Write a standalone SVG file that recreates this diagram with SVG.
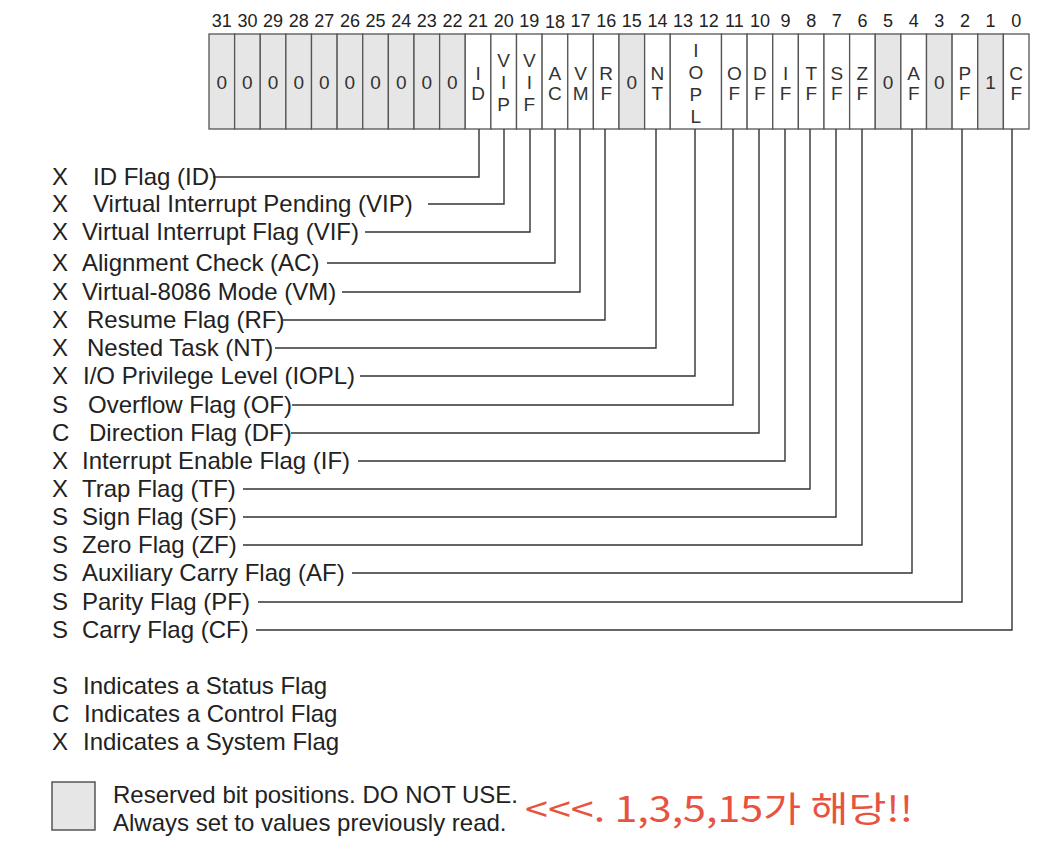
<svg xmlns="http://www.w3.org/2000/svg" width="1060" height="852" viewBox="0 0 1060 852">
<style>
.num{font-family:"Liberation Sans",Arial,sans-serif;font-size:18px;fill:#222;text-anchor:middle}
.ct{font-family:"Liberation Sans",Arial,sans-serif;font-size:19px;fill:#333;text-anchor:middle}
.vt{font-family:"Liberation Sans",Arial,sans-serif;font-size:19px;fill:#333;text-anchor:middle;writing-mode:vertical-rl;text-orientation:upright;letter-spacing:-1px}
.cell{fill:#fff;stroke:#555;stroke-width:1.3}
.res{fill:#e6e6e6;stroke:#555;stroke-width:1.3}
.lbl{font-family:"Liberation Sans",Arial,sans-serif;font-size:24px;fill:#222}
.conn path{fill:none;stroke:#333;stroke-width:1.4}
.red{font-family:"Noto Sans CJK KR","Liberation Sans",sans-serif;font-size:35px;fill:#e8533f}
</style>
<rect width="1060" height="852" fill="#fff"/>
<g id="bit-numbers">
<text class="num" x="221.8" y="27">31</text><text class="num" x="247.4" y="27">30</text><text class="num" x="273.1" y="27">29</text><text class="num" x="298.7" y="27">28</text><text class="num" x="324.3" y="27">27</text><text class="num" x="349.9" y="27">26</text><text class="num" x="375.6" y="27">25</text><text class="num" x="401.2" y="27">24</text><text class="num" x="426.8" y="27">23</text><text class="num" x="452.4" y="27">22</text><text class="num" x="478.1" y="27">21</text><text class="num" x="503.7" y="27">20</text><text class="num" x="529.3" y="27">19</text><text class="num" x="554.9" y="28">18</text><text class="num" x="580.6" y="27">17</text><text class="num" x="606.2" y="27">16</text><text class="num" x="631.8" y="27">15</text><text class="num" x="657.4" y="27">14</text><text class="num" x="683.1" y="27">13</text><text class="num" x="708.7" y="27">12</text><text class="num" x="734.3" y="27">11</text><text class="num" x="759.9" y="27">10</text><text class="num" x="785.6" y="27">9</text><text class="num" x="811.2" y="27">8</text><text class="num" x="836.8" y="27">7</text><text class="num" x="862.4" y="27">6</text><text class="num" x="888.1" y="27">5</text><text class="num" x="913.7" y="27">4</text><text class="num" x="939.3" y="27">3</text><text class="num" x="964.9" y="27">2</text><text class="num" x="990.6" y="27">1</text><text class="num" x="1016.2" y="27">0</text>
</g>
<g id="reserved-31-22">
<rect class="res" x="209" y="34" width="25.625" height="95"/><rect class="res" x="234.625" y="34" width="25.625" height="95"/><rect class="res" x="260.25" y="34" width="25.625" height="95"/><rect class="res" x="285.875" y="34" width="25.625" height="95"/><rect class="res" x="311.5" y="34" width="25.625" height="95"/><rect class="res" x="337.125" y="34" width="25.625" height="95"/><rect class="res" x="362.75" y="34" width="25.625" height="95"/><rect class="res" x="388.375" y="34" width="25.625" height="95"/><rect class="res" x="414" y="34" width="25.625" height="95"/><rect class="res" x="439.625" y="34" width="25.625" height="95"/>
<text class="ct" x="221.8" y="89">0</text><text class="ct" x="247.4" y="89">0</text><text class="ct" x="273.1" y="89">0</text><text class="ct" x="298.7" y="89">0</text><text class="ct" x="324.3" y="89">0</text><text class="ct" x="349.9" y="89">0</text><text class="ct" x="375.6" y="89">0</text><text class="ct" x="401.2" y="89">0</text><text class="ct" x="426.8" y="89">0</text><text class="ct" x="452.4" y="89">0</text>
</g>
<g id="bit-ID"><rect class="cell" x="465.25" y="34" width="25.625" height="95"/><text class="vt" x="478.1" y="83">ID</text></g>
<g id="bit-VIP"><rect class="cell" x="490.875" y="34" width="25.625" height="95"/><text class="vt" x="503.7" y="83" style="letter-spacing:1px">VIP</text></g>
<g id="bit-VIF"><rect class="cell" x="516.5" y="34" width="25.625" height="95"/><text class="vt" x="529.3" y="83" style="letter-spacing:1px">VIF</text></g>
<g id="bit-AC"><rect class="cell" x="542.125" y="34" width="25.625" height="95"/><text class="vt" x="554.9" y="83">AC</text></g>
<g id="bit-VM"><rect class="cell" x="567.75" y="34" width="25.625" height="95"/><text class="vt" x="580.6" y="83">VM</text></g>
<g id="bit-RF"><rect class="cell" x="593.375" y="34" width="25.625" height="95"/><text class="vt" x="606.2" y="83">RF</text></g>
<g id="bit-15"><rect class="res" x="619" y="34" width="25.625" height="95"/><text class="ct" x="631.8" y="89">0</text></g>
<g id="bit-NT"><rect class="cell" x="644.625" y="34" width="25.625" height="95"/><text class="vt" x="657.4" y="83">NT</text></g>
<g id="bit-IOPL"><rect class="cell" x="670.25" y="34" width="51.25" height="95"/><text class="vt" x="695.9" y="84" style="letter-spacing:1px">IOPL</text></g>
<g id="bit-OF"><rect class="cell" x="721.5" y="34" width="25.625" height="95"/><text class="vt" x="734.3" y="83">OF</text></g>
<g id="bit-DF"><rect class="cell" x="747.125" y="34" width="25.625" height="95"/><text class="vt" x="759.9" y="83">DF</text></g>
<g id="bit-IF"><rect class="cell" x="772.75" y="34" width="25.625" height="95"/><text class="vt" x="785.6" y="83">IF</text></g>
<g id="bit-TF"><rect class="cell" x="798.375" y="34" width="25.625" height="95"/><text class="vt" x="811.2" y="83">TF</text></g>
<g id="bit-SF"><rect class="cell" x="824" y="34" width="25.625" height="95"/><text class="vt" x="836.8" y="83">SF</text></g>
<g id="bit-ZF"><rect class="cell" x="849.625" y="34" width="25.625" height="95"/><text class="vt" x="862.4" y="83">ZF</text></g>
<g id="bit-5"><rect class="res" x="875.25" y="34" width="25.625" height="95"/><text class="ct" x="888.1" y="89">0</text></g>
<g id="bit-AF"><rect class="cell" x="900.875" y="34" width="25.625" height="95"/><text class="vt" x="913.7" y="83">AF</text></g>
<g id="bit-3"><rect class="res" x="926.5" y="34" width="25.625" height="95"/><text class="ct" x="939.3" y="89">0</text></g>
<g id="bit-PF"><rect class="cell" x="952.125" y="34" width="25.625" height="95"/><text class="vt" x="964.9" y="83">PF</text></g>
<g id="bit-1"><rect class="res" x="977.75" y="34" width="25.625" height="95"/><text class="ct" x="990.6" y="89">1</text></g>
<g id="bit-CF"><rect class="cell" x="1003.375" y="34" width="25.625" height="95"/><text class="vt" x="1016.2" y="83">CF</text></g>

<g id="connectors" class="conn">
<path d="M479,129V177H213"/>
<path d="M504,129V204H428"/>
<path d="M530,129V232H365"/>
<path d="M555,129V263H327"/>
<path d="M580,129V292H342"/>
<path d="M605,129V320H283"/>
<path d="M656,129V348H275"/>
<path d="M695,129V376H360"/>
<path d="M733,129V405H292"/>
<path d="M759,129V433H291"/>
<path d="M785,129V461H358"/>
<path d="M810,129V489H243"/>
<path d="M836,129V517H243"/>
<path d="M862,129V545H243"/>
<path d="M912,129V573H352"/>
<path d="M962,129V602H258"/>
<path d="M1012,129V630H256"/>
</g>

<g id="label-ID"><text class="lbl" x="52" y="185">X</text><text class="lbl" x="93" y="185">ID Flag (ID)</text></g>
<g id="label-VIP"><text class="lbl" x="52" y="212">X</text><text class="lbl" x="93" y="212">Virtual Interrupt Pending (VIP)</text></g>
<g id="label-VIF"><text class="lbl" x="52" y="240">X</text><text class="lbl" x="82" y="240">Virtual Interrupt Flag (VIF)</text></g>
<g id="label-AC"><text class="lbl" x="52" y="271">X</text><text class="lbl" x="82" y="271">Alignment Check (AC)</text></g>
<g id="label-VM"><text class="lbl" x="52" y="300">X</text><text class="lbl" x="82" y="300">Virtual-8086 Mode (VM)</text></g>
<g id="label-RF"><text class="lbl" x="52" y="328">X</text><text class="lbl" x="87" y="328">Resume Flag (RF)</text></g>
<g id="label-NT"><text class="lbl" x="52" y="356">X</text><text class="lbl" x="87" y="356">Nested Task (NT)</text></g>
<g id="label-IOPL"><text class="lbl" x="52" y="384">X</text><text class="lbl" x="83" y="384">I/O Privilege Level (IOPL)</text></g>
<g id="label-OF"><text class="lbl" x="52" y="413">S</text><text class="lbl" x="88" y="413">Overflow Flag (OF)</text></g>
<g id="label-DF"><text class="lbl" x="52" y="441">C</text><text class="lbl" x="89" y="441">Direction Flag (DF)</text></g>
<g id="label-IF"><text class="lbl" x="52" y="469">X</text><text class="lbl" x="82" y="469">Interrupt Enable Flag (IF)</text></g>
<g id="label-TF"><text class="lbl" x="52" y="497">X</text><text class="lbl" x="82" y="497">Trap Flag (TF)</text></g>
<g id="label-SF"><text class="lbl" x="52" y="525">S</text><text class="lbl" x="82" y="525">Sign Flag (SF)</text></g>
<g id="label-ZF"><text class="lbl" x="52" y="553">S</text><text class="lbl" x="82" y="553">Zero Flag (ZF)</text></g>
<g id="label-AF"><text class="lbl" x="52" y="581">S</text><text class="lbl" x="82" y="581">Auxiliary Carry Flag (AF)</text></g>
<g id="label-PF"><text class="lbl" x="52" y="610">S</text><text class="lbl" x="82" y="610">Parity Flag (PF)</text></g>
<g id="label-CF"><text class="lbl" x="52" y="638">S</text><text class="lbl" x="82" y="638">Carry Flag (CF)</text></g>

<g id="legend">
<text class="lbl" x="52" y="694">S</text><text class="lbl" x="83" y="694">Indicates a Status Flag</text>
<text class="lbl" x="52" y="722">C</text><text class="lbl" x="84" y="722">Indicates a Control Flag</text>
<text class="lbl" x="52" y="750">X</text><text class="lbl" x="83" y="750">Indicates a System Flag</text>
</g>
<g id="legend-reserved">
<rect x="52" y="782" width="43" height="48" fill="#e6e6e6" stroke="#555" stroke-width="1.5"/>
<text class="lbl" x="113" y="803">Reserved bit positions. DO NOT USE.</text>
<text class="lbl" x="113" y="831">Always set to values previously read.</text>
</g>
<g id="note"><text class="red" x="525" y="822" textLength="388" lengthAdjust="spacingAndGlyphs">&lt;&lt;&lt;. 1,3,5,15가 해당!!</text></g>
</svg>
